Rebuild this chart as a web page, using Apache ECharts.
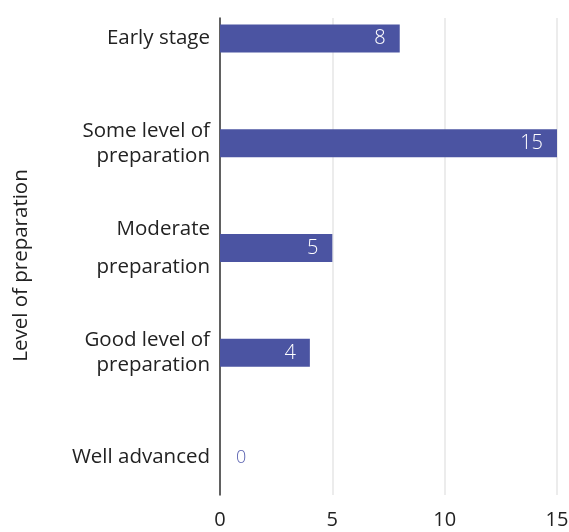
<!DOCTYPE html>
<html>
<head>
<meta charset="utf-8">
<script src="https://cdn.jsdelivr.net/npm/echarts@6/dist/echarts.min.js"></script>
<style>html,body{margin:0;padding:0;background:#fff}#c{width:569px;height:532px}</style>
</head>
<body>
<div id="c"></div>
<script>
const categories = ['Early stage', 'Some level of\npreparation', 'Moderate\npreparation', 'Good level of\npreparation', 'Well advanced'];
const values = [8, 15, 5, 4, 0];
const xTicks = [0, 5, 10, 15];
const yTitle = 'Level of preparation';

const FONT = 'Open Sans';
const BAR = '#4B54A2';

const chart = echarts.init(document.getElementById('c'), null, {renderer: 'canvas'});
chart.setOption({
  animation: false,
  grid: [
    {left: 220, right: 12, top: -14, bottom: 22, outerBoundsMode: 'none', containLabel: false},
    {left: 220, right: 12, top: 18, bottom: 37, outerBoundsMode: 'none', containLabel: false}
  ],
  xAxis: [
    {gridIndex: 0, type: 'value', min: xTicks[0], max: xTicks[xTicks.length - 1], interval: 5,
     axisLine: {show: false}, axisTick: {show: false}, axisLabel: {show: false}, splitLine: {show: false}},
    {gridIndex: 1, type: 'value', min: xTicks[0], max: xTicks[xTicks.length - 1], interval: 5,
     axisLine: {show: false}, axisTick: {show: false},
     axisLabel: {color: '#222', fontFamily: FONT, fontSize: 20, margin: 15},
     splitLine: {show: true, lineStyle: {color: '#e6e6e6', width: 1.5}}}
  ],
  yAxis: [
    {gridIndex: 0, type: 'category', inverse: true,
     data: categories.map(c => c.startsWith('Moderate') ? {value: c, textStyle: {lineHeight: 38}} : c),
     axisLine: {show: false}, axisTick: {show: false}, splitLine: {show: false},
     axisLabel: {color: '#222', fontFamily: FONT, fontSize: 20.5, lineHeight: 25, margin: 10, align: 'right'}},
    {gridIndex: 1, type: 'value', min: 0, max: 1,
     axisLine: {show: true, lineStyle: {color: '#333', width: 1.5}}, axisTick: {show: false},
     axisLabel: {show: false}, splitLine: {show: false},
     name: yTitle, nameLocation: 'middle', nameGap: 188, nameRotate: 90,
     nameTextStyle: {color: '#222', fontFamily: FONT, fontSize: 20.5, padding: [0, 18, 0, 0]}}
  ],
  series: [{
    type: 'bar',
    xAxisIndex: 0, yAxisIndex: 0,
    barWidth: 28,
    itemStyle: {color: BAR},
    label: {show: true, position: 'insideRight', distance: 14, color: '#fff', fontFamily: FONT, fontSize: 20, fontWeight: 300},
    data: values.map(v => v === 0
      ? {value: v, label: {position: 'right', distance: 16, color: '#5A62B0', fontSize: 18}}
      : v)
  }]
});
</script>
</body>
</html>
